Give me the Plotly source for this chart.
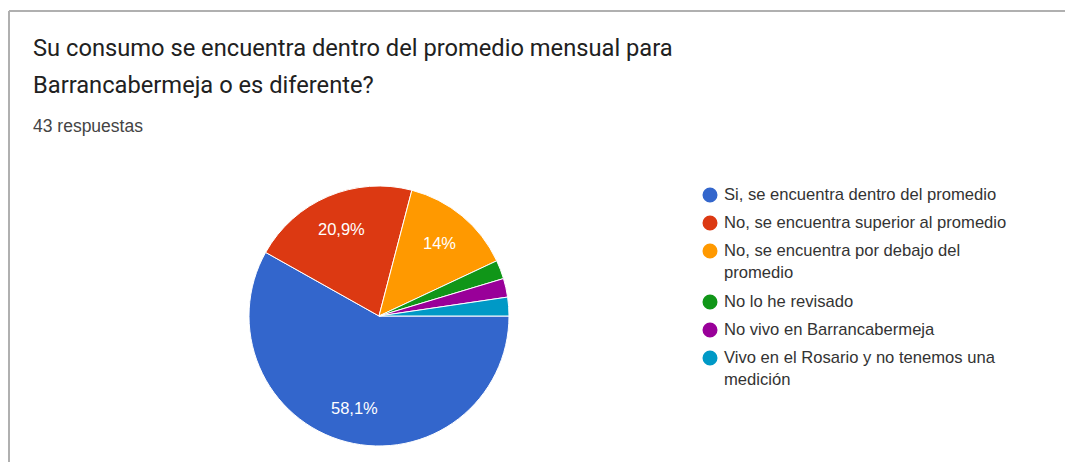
import math
import plotly.graph_objects as go

# ---- data ----
labels = [
    "Si, se encuentra dentro del promedio",
    "No, se encuentra superior al promedio",
    "No, se encuentra por debajo del<br>promedio",
    "No lo he revisado",
    "No vivo en Barrancabermeja",
    "Vivo en el Rosario y no tenemos una<br>medición",
]
counts = [25, 9, 6, 1, 1, 1]
colors = ["#3366cc", "#dc3912", "#ff9900", "#109618", "#990099", "#0099c6"]
title_lines = ["Su consumo se encuentra dentro del promedio mensual para",
               "Barrancabermeja o es diferente?"]
subtitle = "43 respuestas"

# page body has an 8px margin; figure sized to fill the rest of the window
OX, OY = 8, 8
W, H = 1073 - OX, 462 - OY

def px(x):
    return (x - OX) / W

def py(y):
    return 1 - (y - OY) / H

total = sum(counts)

def fmt(v):
    p = round(v / total * 100, 1)
    s = f"{p:.1f}".replace(".", ",")
    if s.endswith(",0"):
        s = s[:-2]
    return s + "%" if p >= 5 else ""

texts = [fmt(v) for v in counts]

fig = go.Figure()
cx, cy, r = 379, 316, 130
start_deg = 90
fig.add_trace(go.Pie(
    labels=labels, values=counts, textinfo="none",
    sort=False, direction="clockwise", rotation=start_deg,
    marker=dict(colors=colors, line=dict(color="white", width=1)),
    showlegend=False, hoverinfo="label+percent",
    domain=dict(x=[px(cx - r), px(cx + r)], y=[py(cy + r), py(cy - r)]),
))

font_fam = "Roboto, Arial, sans-serif"
label_fam = "Liberation Sans, Arial, sans-serif"
annotations = []

# slice percentage labels placed along each slice's mid-angle
acc = 0
for v, t in zip(counts, texts):
    mid = start_deg + (acc + v / 2) / total * 360
    acc += v
    if not t:
        continue
    rr = 0.73 * r
    lx = cx + rr * math.sin(math.radians(mid))
    ly_ = cy - rr * math.cos(math.radians(mid))
    annotations.append(dict(text=t, x=px(lx), y=py(ly_), xref="paper", yref="paper",
                            xanchor="center", yanchor="middle", showarrow=False,
                            font=dict(family=label_fam, size=16.5, color="white")))

shapes = [
    dict(type="line", xref="paper", yref="paper", x0=px(9), x1=1, y0=py(11), y1=py(11),
         line=dict(color="#b0b0b0", width=2)),
    dict(type="line", xref="paper", yref="paper", x0=px(9), x1=px(9), y0=0, y1=py(11),
         line=dict(color="#b0b0b0", width=2)),
]

for i, t in enumerate(title_lines):
    annotations.append(dict(text=t, x=px(31), y=py(48 + 37 * i), xref="paper", yref="paper",
                            xanchor="left", yanchor="middle", showarrow=False,
                            font=dict(family=font_fam, size=23.7, color="#212121")))
annotations.append(dict(text=subtitle, x=px(31), y=py(126), xref="paper", yref="paper",
                        xanchor="left", yanchor="middle", showarrow=False,
                        font=dict(family=label_fam, size=17.5, color="#444444")))

# legend
ly = 195
cr = 7.5
for lab, col in zip(labels, colors):
    shapes.append(dict(type="circle", xref="paper", yref="paper",
                       x0=px(710 - cr), x1=px(710 + cr),
                       y0=py(ly + cr), y1=py(ly - cr),
                       fillcolor=col, line=dict(width=0)))
    nlines = lab.count("<br>") + 1
    annotations.append(dict(text=lab, x=px(722), y=py(ly - 12.5), xref="paper", yref="paper",
                            xanchor="left", yanchor="top", align="left", showarrow=False,
                            font=dict(family=label_fam, size=16.6, color="#333333")))
    ly += 28 + (nlines - 1) * 23

fig.update_layout(
    width=W, height=H, margin=dict(l=0, r=0, t=0, b=0),
    paper_bgcolor="white", plot_bgcolor="white",
    shapes=shapes, annotations=annotations,
)
fig.write_html("out.html")
